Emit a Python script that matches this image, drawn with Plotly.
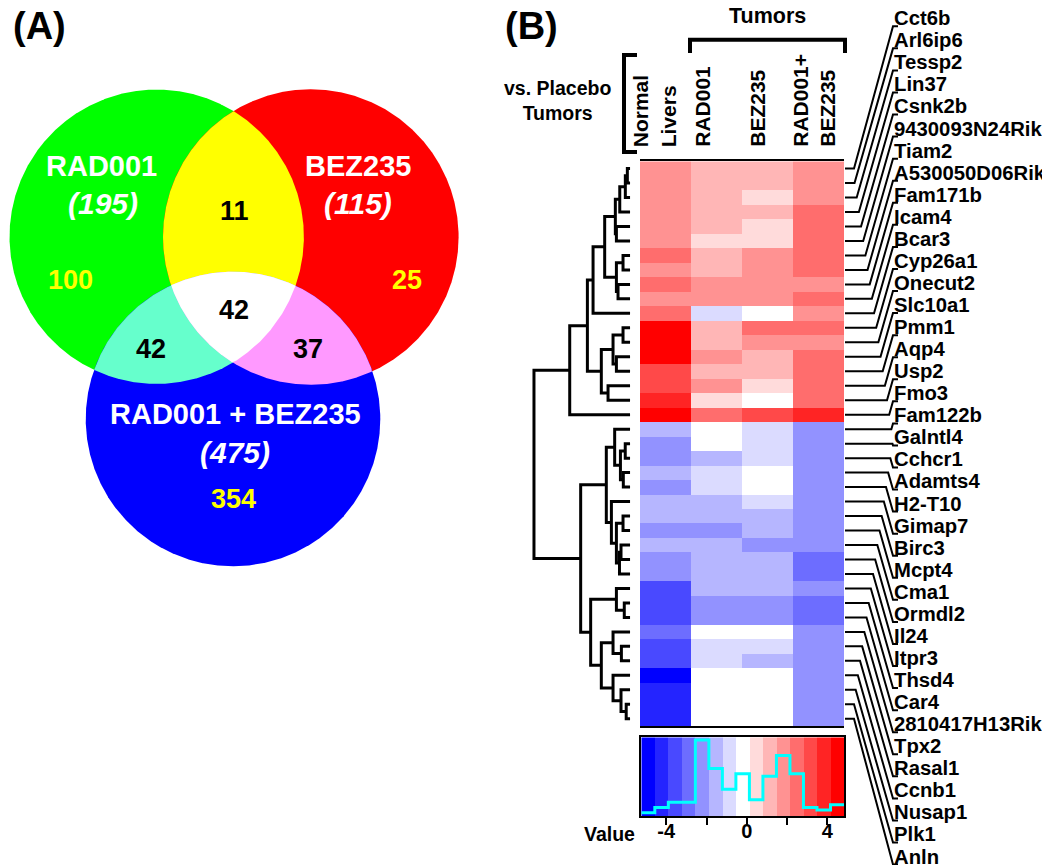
import numpy as np
import plotly.graph_objects as go

# ================= DATA =================
# ---- Panel A: Venn counts ----
set_names = ["RAD001", "BEZ235", "RAD001 + BEZ235"]
set_totals = [195, 115, 475]
unique_counts = [100, 25, 354]
pair_names = ["RAD001&BEZ235", "RAD001&Combo", "BEZ235&Combo"]
pair_counts = [11, 42, 37]
all_three_count = 42

# ---- Panel B: heatmap ----
conditions = ["Normal<br>Livers", "RAD001", "BEZ235", "RAD001+<br>BEZ235"]
genes = ["Cct6b", "Arl6ip6", "Tessp2", "Lin37", "Csnk2b", "9430093N24Rik", "Tiam2",
         "A530050D06Rik", "Fam171b", "Icam4", "Bcar3", "Cyp26a1", "Onecut2", "Slc10a1",
         "Pmm1", "Aqp4", "Usp2", "Fmo3", "Fam122b", "Galntl4", "Cchcr1", "Adamts4",
         "H2-T10", "Gimap7", "Birc3", "Mcpt4", "Cma1", "Ormdl2", "Il24", "Itpr3", "Thsd4",
         "Car4", "2810417H13Rik", "Tpx2", "Rasal1", "Ccnb1", "Nusap1", "Plk1", "Anln"]
log_ratio = [
    [1.81, 1.14, 1.14, 1.81],
    [1.81, 1.14, 1.14, 1.81],
    [1.81, 1.14, 0.47, 1.81],
    [1.81, 1.14, 1.14, 2.48],
    [1.81, 1.14, 0.47, 2.48],
    [1.81, 0.47, 0.47, 2.48],
    [2.48, 1.14, 1.81, 2.48],
    [1.81, 1.14, 1.81, 2.48],
    [2.48, 1.81, 1.81, 1.81],
    [1.81, 1.81, 1.81, 2.48],
    [2.48, -0.87, -0.20, 1.81],
    [4.50, 1.14, 2.48, 2.48],
    [4.50, 1.14, 1.81, 1.81],
    [4.50, 1.81, 1.14, 2.48],
    [3.16, 1.14, 1.14, 2.48],
    [3.16, 1.81, 0.47, 2.48],
    [3.83, 0.47, -0.20, 2.48],
    [4.50, 2.48, 3.16, 3.83],
    [-1.54, -0.20, -0.87, -2.22],
    [-2.22, -0.20, -0.87, -2.22],
    [-2.22, -1.54, -0.87, -2.22],
    [-1.54, -0.87, -0.20, -2.22],
    [-2.22, -0.87, -0.20, -2.22],
    [-1.54, -1.54, -0.87, -2.22],
    [-1.54, -1.54, -1.54, -2.22],
    [-2.22, -2.22, -1.54, -2.22],
    [-1.54, -1.54, -2.22, -2.22],
    [-2.22, -1.54, -1.54, -2.89],
    [-2.22, -1.54, -1.54, -2.89],
    [-3.56, -1.54, -1.54, -2.22],
    [-3.56, -2.22, -2.22, -2.89],
    [-3.56, -2.22, -2.22, -2.89],
    [-2.89, -0.20, -0.20, -2.22],
    [-3.56, -0.87, -0.87, -2.22],
    [-3.56, -0.87, -1.54, -2.22],
    [-4.90, -0.20, -0.20, -2.22],
    [-4.23, -0.20, -0.20, -2.22],
    [-4.23, -0.20, -0.20, -2.22],
    [-4.23, -0.20, -0.20, -2.22],
]
# row-cluster linkage: (child a, child b, height); ids >= 39 are earlier merges
linkage = [
    (0, 1, 0.28), (39, 2, 0.49), (40, 3, 1.07), (4, 5, 1.42), (41, 42, 1.53),
    (6, 7, 0.73), (8, 9, 1.25), (44, 45, 1.42), (43, 46, 2.64), (47, 10, 3.85),
    (11, 12, 0.73), (13, 14, 1.42), (49, 50, 1.77), (15, 16, 2.29), (51, 52, 2.99),
    (48, 53, 4.44), (54, 17, 6.28),
    (19, 20, 0.50), (21, 22, 0.70), (56, 57, 1.00), (18, 58, 1.60),
    (24, 25, 0.73), (26, 27, 0.94), (61, 28, 1.10), (60, 62, 1.42), (23, 63, 1.94),
    (59, 64, 2.47), (30, 31, 0.60), (29, 66, 1.42), (33, 34, 0.90), (32, 68, 1.77),
    (37, 38, 0.40), (36, 70, 0.94), (35, 71, 1.77), (69, 72, 2.99), (67, 73, 4.10),
    (65, 74, 5.14), (55, 75, 10.0),
]
key_min, key_max, key_bins = -5.24, 4.83, 15
key_tickvals = [-4, -2, 0, 2, 4]
key_ticktext = ["-4", "", "0", "", "4"]

# ================= STYLE / LAYOUT HELPERS =================
W, H = 1050, 865
FONT = "Liberation Sans, Arial, sans-serif"
VSHIFT = 0.25  # glyph-centre correction (fraction of font size)

def dx(a, b):
    return [a / W, b / W]

def dy(top, bot):
    return [1 - bot / H, 1 - top / H]

steps = np.linspace(0, 255, 8).round().astype(int)
key_colors = ([f"rgb({v},{v},255)" for v in steps] +
              [f"rgb(255,{v},{v})" for v in steps[::-1][1:]])
cscale = []
for i, c in enumerate(key_colors):
    cscale += [[i / key_bins, c], [(i + 1) / key_bins, c]]

fig = go.Figure()

# ================= PANEL A: VENN =================
circles = [(148.7, 228.7, 147.2), (302.8, 229.0, 147.8), (225.0, 411.0, 147.3)]

def circ_pts(c, n=2400):
    t = np.linspace(0, 2 * np.pi, n)
    return c[0] + c[2] * np.cos(t), c[1] + c[2] * np.sin(t)

def inside(x, y, c):
    return (x - c[0]) ** 2 + (y - c[1]) ** 2 <= c[2] ** 2 + 1e-6

def region(idx):
    px, py = [], []
    for i in idx:
        x, y = circ_pts(circles[i])
        m = np.ones_like(x, dtype=bool)
        for j in idx:
            if j != i:
                m &= inside(x, y, circles[j])
        px.append(x[m]); py.append(y[m])
    px = np.concatenate(px); py = np.concatenate(py)
    o = np.argsort(np.arctan2(py - py.mean(), px - px.mean()))
    px, py = px[o], py[o]
    return list(px) + [px[0]], list(py) + [py[0]]

venn_fills = [([0], "#00FF00"), ([1], "#FF0000"), ([2], "#0000FF"),
              ([0, 1], "#FFFF00"), ([0, 2], "#66FFCC"), ([1, 2], "#FF99FF"),
              ([0, 1, 2], "#FFFFFF")]
for idx, col in venn_fills:
    if len(idx) == 1:
        x, y = circ_pts(circles[idx[0]])
    else:
        x, y = region(idx)
    fig.add_trace(go.Scatter(x=x, y=y, mode="lines", fill="toself", fillcolor=col,
                             line=dict(width=0, color=col), hoverinfo="skip",
                             xaxis="x4", yaxis="y4", showlegend=False))

def ann(text, x, y, size, color="black", extra=0.0, **kw):
    fig.add_annotation(text=text, x=x, y=y, xref="x4", yref="y4", showarrow=False,
                       yshift=VSHIFT * size + extra,
                       font=dict(size=size, color=color, family=FONT), **kw)

ann("<b>(A)</b>", 31, 27, 38)
ann("<b>(B)</b>", 523, 27, 38)

name_pos = [(93, 165), (350, 165), (227, 413)]
total_pos = [(95, 203), (350, 203), (227, 452)]
uniq_pos = [(62, 279), (399, 279), (225, 498)]
pair_pos = [(226, 210), (143, 348), (300, 348)]
for k in range(3):
    ann(f"<b>{set_names[k]}</b>", *name_pos[k], 29, "white")
    ann(f"<b><i>({set_totals[k]})</i></b>", *total_pos[k], 30, "white")
    ann(f"<b>{unique_counts[k]}</b>", *uniq_pos[k], 27, "#FFFF00")
    ann(f"<b>{pair_counts[k]}</b>", *pair_pos[k], 27, "black")
ann(f"<b>{all_three_count}</b>", 226, 309, 27, "black")

# ================= PANEL B: HEATMAP =================
n = len(genes)
hm_left, hm_right, hm_top, hm_bot = 632, 836, 153.3, 718
z = np.array(log_ratio)
fig.add_trace(go.Heatmap(z=z, x=list(range(len(conditions))), y=list(range(n)),
                         colorscale=cscale, zmin=key_min, zmax=key_max, showscale=False,
                         xgap=0, ygap=0, hoverinfo="skip"))

# dendrogram
node_y = {i: float(i) for i in range(n)}
node_h = {i: 0.0 for i in range(n)}
dxs, dys = [], []
for k, (a, b, h) in enumerate(linkage):
    ya, yb = node_y[a], node_y[b]
    dxs += [node_h[a], h, h, node_h[b], None]
    dys += [ya, ya, yb, yb, None]
    node_y[n + k] = (ya + yb) / 2
    node_h[n + k] = h
fig.add_trace(go.Scatter(x=dxs, y=dys, mode="lines", line=dict(color="black", width=3),
                         xaxis="x2", yaxis="y", hoverinfo="skip", showlegend=False))

# gene label leader lines
row_h = (hm_bot - hm_top) / n
lab_top, lab_step = 18.3, 22.06
lxs, lys = [], []
for i in range(n):
    ry = hm_top + (i + 0.5) * row_h
    ly = lab_top + i * lab_step
    xd = max(885 - abs(ly - ry) / 3.5, 846)
    lxs += [hm_right + 1, xd, 885, 890, None]
    lys += [ry, ry, ly, ly, None]
fig.add_trace(go.Scatter(x=lxs, y=lys, mode="lines", line=dict(color="black", width=2),
                         xaxis="x4", yaxis="y4", hoverinfo="skip", showlegend=False))
for i, g in enumerate(genes):
    ann(f"<b>{g}</b>", 884, lab_top + i * lab_step, 20.3, extra=3, xanchor="left")

# header brackets
col_w = (hm_right - hm_left) / len(conditions)
bx = [hm_left + col_w - 1, hm_left + col_w - 1, hm_right + 1, hm_right + 1]
by = [45, 31.7, 31.7, 45]
fig.add_trace(go.Scatter(x=bx, y=by, mode="lines", line=dict(color="black", width=4),
                         xaxis="x4", yaxis="y4", hoverinfo="skip", showlegend=False))
fig.add_trace(go.Scatter(x=[629, 616, 616, 629], y=[47, 47, 144, 144], mode="lines",
                         line=dict(color="black", width=4),
                         xaxis="x4", yaxis="y4", hoverinfo="skip", showlegend=False))
ann("<b>Tumors</b>", (bx[0] + bx[2]) / 2, 13, 21.5)
ann("<b>vs. Placebo<br>Tumors</b>", 549, 97, 19.5)
col_shift = [-6, -9, -5, 0]
for c, lab in enumerate(conditions):
    fig.add_annotation(text=f"<b>{lab}</b>", x=c, y=141, xref="x", yref="y4",
                       xshift=col_shift[c] - VSHIFT * 21, showarrow=False, textangle=-90,
                       xanchor="center", yanchor="bottom", align="left",
                       font=dict(size=21, family=FONT, color="black"))

# color key with histogram
breaks = np.linspace(key_min, key_max, key_bins + 1)
centers = (breaks[:-1] + breaks[1:]) / 2
counts, _ = np.histogram(z.flatten(), bins=breaks)
fig.add_trace(go.Heatmap(z=[centers], x=breaks, y=[-0.4, 30], colorscale=cscale,
                         zmin=key_min, zmax=key_max, showscale=False,
                         xaxis="x3", yaxis="y3", hoverinfo="skip"))
fig.add_trace(go.Scatter(x=list(breaks), y=list(counts) + [counts[-1]], mode="lines",
                         line=dict(color="#00FFFF", width=3, shape="hv"),
                         xaxis="x3", yaxis="y3", hoverinfo="skip", showlegend=False))
ann("<b>Value</b>", 601, 831, 19.5)

hidden = dict(visible=False, showgrid=False, zeroline=False)
fig.update_layout(
    width=W, height=H, margin=dict(l=0, r=0, t=0, b=0),
    paper_bgcolor="white", plot_bgcolor="rgba(0,0,0,0)", showlegend=False,
    xaxis=dict(domain=dx(hm_left, hm_right), range=[-0.5, 3.5], showline=True,
               mirror=True, linecolor="black", linewidth=2, showticklabels=False,
               ticks="", showgrid=False, zeroline=False, anchor="y"),
    yaxis=dict(domain=dy(hm_top, hm_bot), range=[n - 0.5, -0.5], **hidden),
    xaxis2=dict(domain=dx(523.1, 623), range=[10.3, -0.1], anchor="y", **hidden),
    xaxis3=dict(domain=dx(633.3, 836), range=[key_min, key_max], anchor="y3",
                showline=True, mirror=True, linecolor="black", linewidth=2,
                ticks="outside", ticklen=7, tickwidth=2, tickcolor="black",
                tickvals=key_tickvals, ticktext=key_ticktext, showgrid=False,
                zeroline=False, ticklabelstandoff=-11,
                tickfont=dict(size=20, family=FONT, color="black", weight="bold")),
    yaxis3=dict(domain=dy(729.3, 808.3), range=[-0.4, 30], anchor="x3", showline=True,
                mirror=True, linecolor="black", linewidth=2, showticklabels=False,
                ticks="", showgrid=False, zeroline=False),
    xaxis4=dict(domain=[0, 1], range=[0, W], anchor="y4", **hidden),
    yaxis4=dict(domain=[0, 1], range=[H, 0], anchor="x4", **hidden),
)

fig.write_html("out.html")
